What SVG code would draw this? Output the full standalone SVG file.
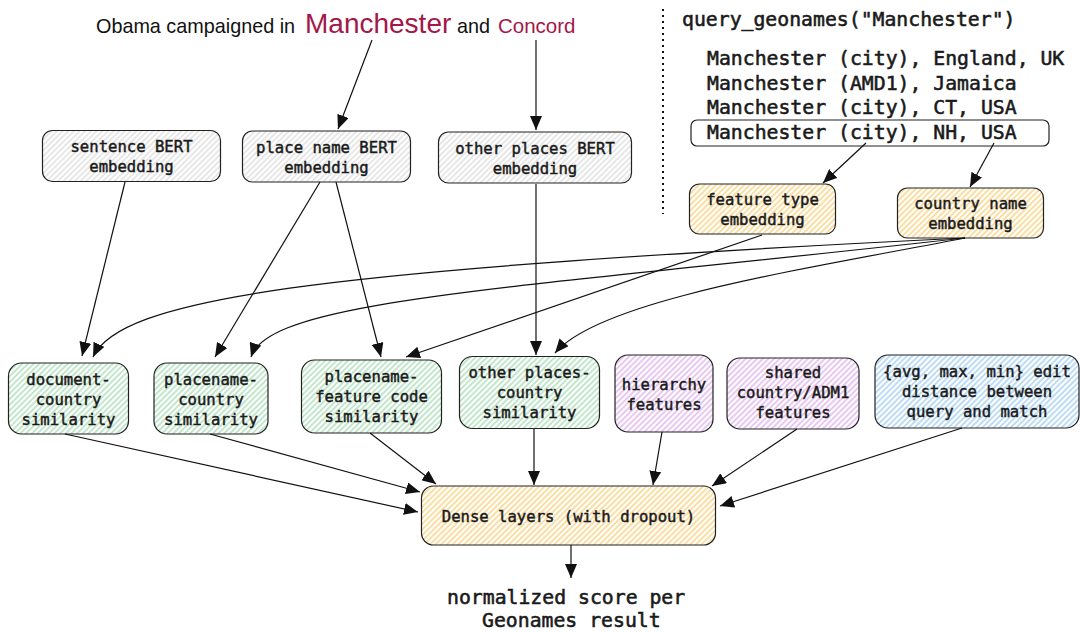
<svg xmlns="http://www.w3.org/2000/svg" width="1080" height="632" viewBox="0 0 1080 632">
<defs>
<pattern id="hg" patternUnits="userSpaceOnUse" width="4" height="4" patternTransform="rotate(45)"><rect width="4" height="4" fill="#fff"/><line x1="1" y1="0" x2="1" y2="4" stroke="#cfcfcf" stroke-width="1"/></pattern>
<pattern id="ho" patternUnits="userSpaceOnUse" width="4" height="4" patternTransform="rotate(45)"><rect width="4" height="4" fill="#fff"/><line x1="1" y1="0" x2="1" y2="4" stroke="#f6c356" stroke-width="1.1"/></pattern>
<pattern id="hgr" patternUnits="userSpaceOnUse" width="4" height="4" patternTransform="rotate(45)"><rect width="4" height="4" fill="#fff"/><line x1="1" y1="0" x2="1" y2="4" stroke="#8fd3a0" stroke-width="1.1"/></pattern>
<pattern id="hp" patternUnits="userSpaceOnUse" width="4" height="4" patternTransform="rotate(45)"><rect width="4" height="4" fill="#fff"/><line x1="1" y1="0" x2="1" y2="4" stroke="#d79ae8" stroke-width="1.1"/></pattern>
<pattern id="hb" patternUnits="userSpaceOnUse" width="4" height="4" patternTransform="rotate(45)"><rect width="4" height="4" fill="#fff"/><line x1="1" y1="0" x2="1" y2="4" stroke="#86c0ee" stroke-width="1.1"/></pattern>
<marker id="ah" markerUnits="userSpaceOnUse" markerWidth="14" markerHeight="12" refX="14" refY="6" orient="auto"><path d="M0,0 L14,6 L0,12 Z" fill="#111"/></marker>
</defs>
<style>
.box{stroke:#222;stroke-width:1.2}
.g{fill:url(#hg)}.o{fill:url(#ho)}.gr{fill:url(#hgr)}.p{fill:url(#hp)}.b{fill:url(#hb)}
.t{font-family:"DejaVu Sans Mono","Liberation Mono",monospace;font-size:15.6px;fill:#1a1a1a;stroke:#1a1a1a;stroke-width:0.45;text-anchor:middle}
.q{font-family:"DejaVu Sans Mono","Liberation Mono",monospace;font-size:19.8px;fill:#1a1a1a;stroke:#1a1a1a;stroke-width:0.55}
.s{font-family:"Liberation Sans",Arial,sans-serif;fill:#111}
.hl{fill:#a3174a}
.e{fill:none;stroke:#111;stroke-width:1.2;marker-end:url(#ah)}
</style>
<rect width="1080" height="632" fill="#fff"/>

<g id="title">
<text class="s" x="96" y="33" font-size="19.8">Obama campaigned in</text>
<text class="s hl" x="305" y="33" font-size="28">Manchester</text>
<text class="s" x="457" y="33" font-size="19.8">and</text>
<text class="s hl" x="498" y="33" font-size="20.5">Concord</text>
</g>

<line x1="663" y1="9" x2="663" y2="214" stroke="#111" stroke-width="2" stroke-dasharray="2,4"/>

<g id="geonames">
<text class="q" x="682" y="26">query_geonames("Manchester")</text>
<text class="q" x="707" y="65">Manchester (city), England, UK</text>
<text class="q" x="707" y="90">Manchester (AMD1), Jamaica</text>
<text class="q" x="707" y="114">Manchester (city), CT, USA</text>
<rect x="691" y="120" width="358" height="26" rx="6" fill="none" stroke="#222" stroke-width="1.2"/>
<text class="q" x="707" y="139">Manchester (city), NH, USA</text>
</g>

<g id="sentence-bert">
<rect class="box g" x="42.5" y="130.5" width="178" height="51" rx="10"/>
<text class="t" x="131.5" y="152">sentence BERT</text>
<text class="t" x="131.5" y="172">embedding</text>
</g>
<g id="placename-bert">
<rect class="box g" x="242.5" y="131" width="168" height="51" rx="10"/>
<text class="t" x="326.5" y="153">place name BERT</text>
<text class="t" x="326.5" y="173">embedding</text>
</g>
<g id="otherplaces-bert">
<rect class="box g" x="438.5" y="132" width="193" height="51" rx="10"/>
<text class="t" x="535" y="154">other places BERT</text>
<text class="t" x="535" y="174">embedding</text>
</g>
<g id="feature-type">
<rect class="box o" x="689.5" y="184" width="146" height="50" rx="10"/>
<text class="t" x="762.5" y="205">feature type</text>
<text class="t" x="762.5" y="225">embedding</text>
</g>
<g id="country-name">
<rect class="box o" x="897.5" y="188" width="146" height="50" rx="10"/>
<text class="t" x="970.5" y="209">country name</text>
<text class="t" x="970.5" y="229">embedding</text>
</g>

<g id="doc-country">
<rect class="box gr" x="8.5" y="363" width="120" height="71" rx="13"/>
<text class="t" x="68.5" y="385">document-</text>
<text class="t" x="68.5" y="405">country</text>
<text class="t" x="68.5" y="425">similarity</text>
</g>
<g id="placename-country">
<rect class="box gr" x="154" y="363" width="114" height="71" rx="13"/>
<text class="t" x="211" y="385">placename-</text>
<text class="t" x="211" y="405">country</text>
<text class="t" x="211" y="425">similarity</text>
</g>
<g id="placename-feature">
<rect class="box gr" x="301.5" y="360" width="140" height="73" rx="13"/>
<text class="t" x="371.5" y="382">placename-</text>
<text class="t" x="371.5" y="402">feature code</text>
<text class="t" x="371.5" y="422">similarity</text>
</g>
<g id="otherplaces-country">
<rect class="box gr" x="459.5" y="356.5" width="140" height="72" rx="13"/>
<text class="t" x="529.5" y="378">other places-</text>
<text class="t" x="529.5" y="398">country</text>
<text class="t" x="529.5" y="418">similarity</text>
</g>
<g id="hierarchy">
<rect class="box p" x="615" y="355" width="98" height="77" rx="13"/>
<text class="t" x="664" y="390">hierarchy</text>
<text class="t" x="664" y="410">features</text>
</g>
<g id="shared">
<rect class="box p" x="727" y="358" width="132" height="71" rx="13"/>
<text class="t" x="793" y="378">shared</text>
<text class="t" x="793" y="398">country/ADM1</text>
<text class="t" x="793" y="418">features</text>
</g>
<g id="edit-distance">
<rect class="box b" x="875" y="355" width="204" height="73" rx="13"/>
<text class="t" x="977" y="377">{avg, max, min} edit</text>
<text class="t" x="977" y="397">distance between</text>
<text class="t" x="977" y="417">query and match</text>
</g>

<g id="dense">
<rect class="box o" x="421.5" y="486" width="294" height="59" rx="12"/>
<text class="t" x="568.5" y="522">Dense layers (with dropout)</text>
</g>

<g id="result">
<text class="q" x="447" y="604">normalized score per</text>
<text class="q" x="482" y="627">Geonames result</text>
</g>

<g id="connectors">
<path class="e" d="M372,40 L338,129"/>
<path class="e" d="M536,40 L536,130"/>
<path class="e" d="M866,143 L823,183"/>
<path class="e" d="M994,143 L970,187"/>
<path class="e" d="M125,182 L82,356"/>
<path class="e" d="M320,182 L215,357"/>
<path class="e" d="M336,182 L381,357"/>
<path class="e" d="M536,184 L536,355"/>
<path class="e" d="M762,235 L406,357"/>
<path class="e" d="M965,238 C300,270 120,300 93,357"/>
<path class="e" d="M965,238 C500,290 270,300 251,357"/>
<path class="e" d="M965,238 C800,270 600,300 555,353"/>
<path class="e" d="M65,434 L418,512"/>
<path class="e" d="M210,434 L420,492"/>
<path class="e" d="M370,433 L436,484"/>
<path class="e" d="M534,429 L534,485"/>
<path class="e" d="M662,432 L653,485"/>
<path class="e" d="M797,429 L712,486"/>
<path class="e" d="M962,428 L720,506"/>
<path class="e" d="M571,545 L571,578"/>
</g>
</svg>
